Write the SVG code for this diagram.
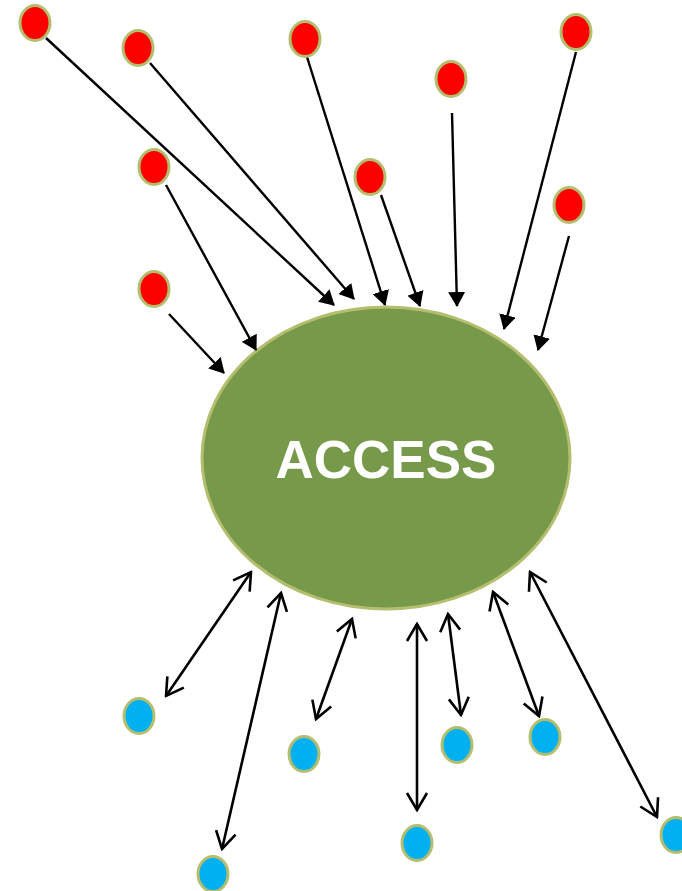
<svg xmlns="http://www.w3.org/2000/svg" width="682" height="891" viewBox="0 0 682 891">
<style>
.red{fill:#FF0000;stroke:#B5BE6E;stroke-width:3}
.blue{fill:#00B0F0;stroke:#B5BE6E;stroke-width:3}
.in{stroke:#000;stroke-width:2.4;fill:none;marker-end:url(#fh)}
.bi{stroke:#000;stroke-width:2.6;fill:none;marker-start:url(#oh);marker-end:url(#oh)}
.lbl{font-family:"Liberation Sans",Arial,sans-serif;font-weight:bold;font-size:53px;fill:#fff;text-anchor:middle}
</style>
<defs>
<marker id="fh" viewBox="0 0 15 17" refX="14" refY="8.5" markerWidth="15" markerHeight="17" markerUnits="userSpaceOnUse" orient="auto">
<path d="M0,0 L15,8.5 L0,17 z" fill="#000"/>
</marker>
<marker id="oh" viewBox="-2 -2 21 24" refX="17" refY="10" markerWidth="21" markerHeight="24" markerUnits="userSpaceOnUse" orient="auto-start-reverse">
<path d="M0,0 L17,10 L0,20" fill="none" stroke="#000" stroke-width="2.6"/>
</marker>
</defs>
<g id="access">
<ellipse cx="386" cy="458" rx="184" ry="151" fill="#77994A" stroke="#B5BE6E" stroke-width="3"/>
<text class="lbl" x="386" y="478">ACCESS</text>
</g>
<g id="connectors">
<line class="in" x1="46" y1="38" x2="334" y2="305"/>
<line class="in" x1="150" y1="63" x2="354" y2="299"/>
<line class="in" x1="307" y1="57" x2="385" y2="305"/>
<line class="in" x1="381" y1="195" x2="420" y2="306"/>
<line class="in" x1="452" y1="113" x2="457" y2="306"/>
<line class="in" x1="576" y1="52" x2="504" y2="329"/>
<line class="in" x1="569" y1="236" x2="538" y2="350"/>
<line class="in" x1="166" y1="185" x2="256" y2="350"/>
<line class="in" x1="169" y1="314" x2="224" y2="373"/>
<line class="bi" x1="251" y1="572" x2="166" y2="696"/>
<line class="bi" x1="281" y1="593" x2="222" y2="849"/>
<line class="bi" x1="352" y1="619" x2="316" y2="719"/>
<line class="bi" x1="417" y1="624" x2="417" y2="810"/>
<line class="bi" x1="448" y1="614" x2="461" y2="715"/>
<line class="bi" x1="493" y1="592" x2="539" y2="716"/>
<line class="bi" x1="530" y1="572" x2="657" y2="817"/>
</g>
<g id="r1"><ellipse class="red" cx="35" cy="23" rx="15" ry="17.5"/></g>
<g id="r2"><ellipse class="red" cx="138" cy="48" rx="15" ry="17.5"/></g>
<g id="r3"><ellipse class="red" cx="305" cy="39" rx="15" ry="17.5"/></g>
<g id="r4"><ellipse class="red" cx="451" cy="79" rx="15" ry="17.5"/></g>
<g id="r5"><ellipse class="red" cx="576" cy="32" rx="15" ry="17.5"/></g>
<g id="r6"><ellipse class="red" cx="154" cy="167" rx="15" ry="17.5"/></g>
<g id="r7"><ellipse class="red" cx="370" cy="177" rx="15" ry="17.5"/></g>
<g id="r8"><ellipse class="red" cx="569" cy="205" rx="15" ry="17.5"/></g>
<g id="r9"><ellipse class="red" cx="154" cy="289" rx="15" ry="17.5"/></g>
<g id="b1"><ellipse class="blue" cx="139" cy="716" rx="15" ry="17.5"/></g>
<g id="b2"><ellipse class="blue" cx="213" cy="874" rx="15" ry="17.5"/></g>
<g id="b3"><ellipse class="blue" cx="304" cy="754" rx="15" ry="17.5"/></g>
<g id="b4"><ellipse class="blue" cx="417" cy="843" rx="15" ry="17.5"/></g>
<g id="b5"><ellipse class="blue" cx="457" cy="745" rx="15" ry="17.5"/></g>
<g id="b6"><ellipse class="blue" cx="545" cy="737" rx="15" ry="17.5"/></g>
<g id="b7"><ellipse class="blue" cx="676" cy="835" rx="15" ry="17.5"/></g>
</svg>
